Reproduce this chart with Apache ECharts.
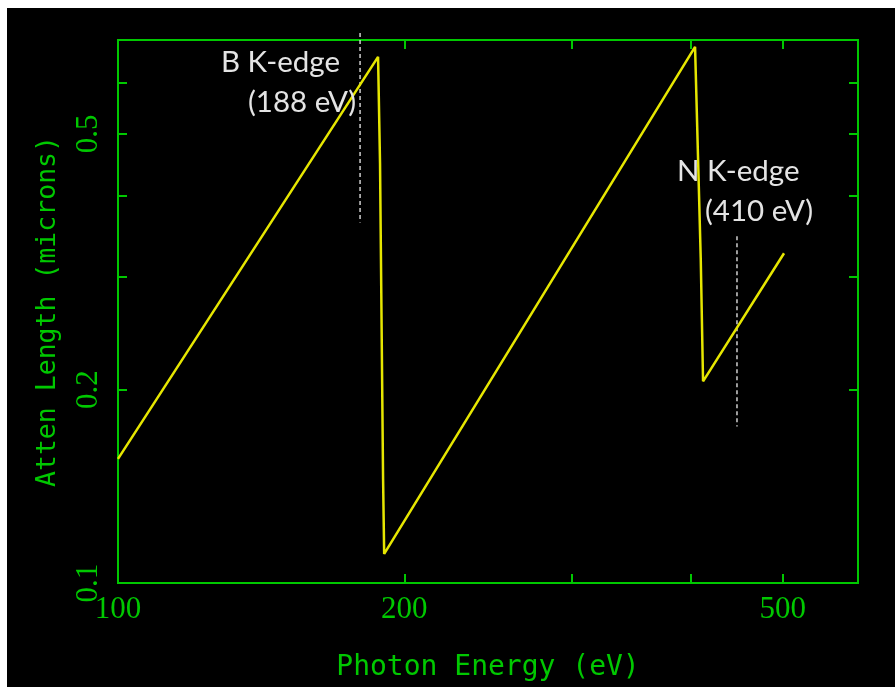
<!DOCTYPE html>
<html><head><meta charset="utf-8">
<script src="https://cdn.jsdelivr.net/npm/echarts@6/dist/echarts.min.js"></script>
<style>
html,body{margin:0;padding:0;background:#fff;}
#bg{position:absolute;left:7px;top:8px;width:888px;height:679px;background:#000;}
#chart{position:absolute;left:0;top:0;width:895px;height:687px;}
</style></head><body>
<div id="bg"></div><div id="chart"></div>
<script>
// Photon energy (eV) and attenuation length (microns)
const energy = [100, 187.7, 188.6, 190.0, 190.5, 404.4, 410.0, 412.3, 501.6];
const attenLength = [0.156, 0.659, 0.45, 0.145, 0.111, 0.683, 0.32, 0.206, 0.326];

// dashed marker lines (annotations)
const bDashEnergy = [179.7, 179.7];
const bDashAtten = [0.718, 0.364];
const nDashEnergy = [447.6, 447.6];
const nDashAtten = [0.3464, 0.1752];

const xTicks = [100, 200, 300, 400, 500];
const xTickLabels = [100, 200, 500];
const yTicks = [0.1, 0.2, 0.3, 0.4, 0.5, 0.6];
const yTickLabels = [0.1, 0.2, 0.5];
const xRange = [100, 600];
const yRange = [0.1, 0.7];

const GREEN = '#00c800';
const lg = v => Math.log10(v);
const fmt = v => { const r = Math.pow(10, v); return r < 1 ? r.toFixed(1) : String(Math.round(r)); };
const pairs = (xs, ys) => xs.map((x, i) => [lg(x), lg(ys[i])]);

const tickFont = {color: GREEN, fontFamily: 'Liberation Serif', fontSize: 31};
const axLine = {show: true, lineStyle: {color: GREEN, width: 2}};

function xAx(pos, main) {
  return {
    type: 'value', position: pos, min: lg(xRange[0]), max: lg(xRange[1]),
    axisLine: axLine,
    axisTick: {show: true, inside: true, length: 9, customValues: xTicks.map(lg), lineStyle: {color: GREEN, width: 2}},
    axisLabel: main ? Object.assign({show: true, customValues: xTickLabels.map(lg), formatter: fmt, margin: 11}, tickFont) : {show: false},
    splitLine: {show: false},
    name: main ? 'Photon Energy (eV)' : '', nameLocation: 'middle', nameGap: 71,
    nameTextStyle: {color: GREEN, fontFamily: 'DejaVu Sans Mono', fontSize: 28}
  };
}
function yAx(pos, main) {
  return {
    type: 'value', position: pos, min: lg(yRange[0]), max: lg(yRange[1]),
    axisLine: axLine,
    axisTick: {show: true, inside: true, length: 9, customValues: yTicks.map(lg), lineStyle: {color: GREEN, width: 2}},
    axisLabel: main ? Object.assign({show: true, customValues: yTickLabels.map(lg), formatter: fmt, margin: 14, rotate: 90}, tickFont) : {show: false},
    splitLine: {show: false},
    name: main ? 'Atten Length (microns)' : '', nameLocation: 'middle', nameGap: 56,
    nameTextStyle: {color: GREEN, fontFamily: 'DejaVu Sans Mono', fontSize: 26.5}
  };
}

const chart = echarts.init(document.getElementById('chart'), null, {renderer: 'canvas'});
const labelStyle = (text, x, y, align) => ({
  type: 'text', x: x, y: y, z: 100,
  style: {text: text, fill: '#e4e4e4', fontFamily: 'Lato', fontSize: 29.5, textAlign: align, textVerticalAlign: 'middle'}
});
chart.setOption({
  backgroundColor: 'transparent',
  animation: false,
  grid: {left: 118, right: 37, top: 40, bottom: 102, show: true, borderColor: GREEN, borderWidth: 2, backgroundColor: 'transparent'},
  xAxis: [xAx('bottom', true), xAx('top', false)],
  yAxis: [yAx('left', true), yAx('right', false)],
  series: [
    {type: 'line', data: pairs(energy, attenLength), showSymbol: false, symbol: 'none',
     lineStyle: {color: '#e6e600', width: 2.5}, z: 5},
    {type: 'line', data: pairs(bDashEnergy, bDashAtten), showSymbol: false, symbol: 'none', clip: false,
     lineStyle: {color: '#cfcfcf', width: 1.5, type: [4, 3]}, z: 4},
    {type: 'line', data: pairs(nDashEnergy, nDashAtten), showSymbol: false, symbol: 'none', clip: false,
     lineStyle: {color: '#cfcfcf', width: 1.5, type: [4, 3]}, z: 4}
  ],
  graphic: [
    labelStyle('B K-edge', 221, 62, 'left'),
    labelStyle('(188 eV)', 302, 102, 'center'),
    labelStyle('N K-edge', 677, 171, 'left'),
    labelStyle('(410 eV)', 759, 211, 'center')
  ]
});
</script>
</body></html>
